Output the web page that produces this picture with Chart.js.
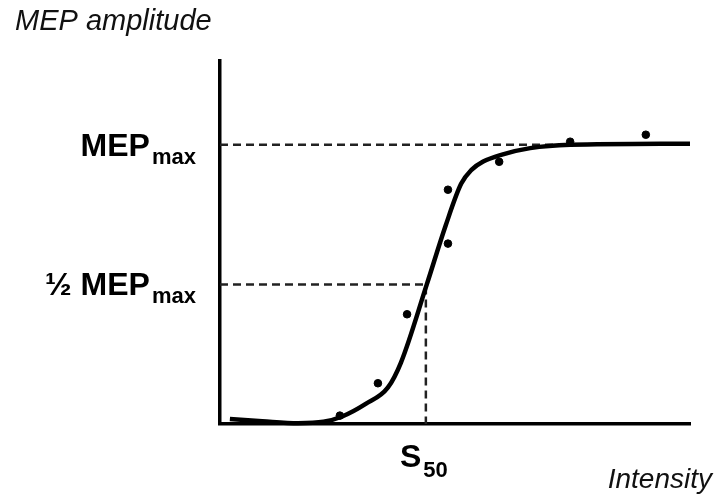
<!DOCTYPE html>
<html lang="en">
<head>
    <meta charset="UTF-8">
    <title>MEP recruitment curve</title>
    <script src="https://cdn.jsdelivr.net/npm/chart.js"></script>
    <style>
        body {
            margin: 0;
            background: #fff;
        }
        canvas {
            display: block;
        }
    </style>
</head>
<body>
    <canvas id="mepChart" width="719" height="497"></canvas>

    <script>
        // fitted curve (intensity, amplitude relative to MEPmax)
        const curveX = [2.1, 9, 16.6, 22, 26, 31, 35.7, 38.5, 44, 48, 51.3, 53.5, 56, 60, 66, 74.5, 100];
        const curveY = [0.018, 0.010, 0.003, 0.008, 0.027, 0.072, 0.13, 0.22, 0.5, 0.71, 0.86, 0.91, 0.94, 0.965, 0.988, 1.0, 1.004];

        // measured responses
        const pointX = [25.5, 33.6, 39.8, 48.5, 48.5, 59.4, 74.5, 90.6];
        const pointY = [0.030, 0.146, 0.393, 0.646, 0.839, 0.939, 1.011, 1.036];

        const MEP_MAX = 1.0;
        const S50 = 43.8;
        const plateauStart = 76;

        const yTickValues = [MEP_MAX, MEP_MAX / 2];
        const yTickText = ['MEP', '½ MEP'];
        const yTickSub = ['max', 'max'];
        const xTickValues = [S50];
        const xTickText = ['S'];
        const xTickSub = ['50'];

        const FONT = '"Liberation Sans", Arial, sans-serif';

        function toXY(xs, ys) {
            return xs.map((x, i) => ({ x: x, y: ys[i] }));
        }

        // label with a subscript part, e.g. MEP + max
        function drawSubText(ctx, main, sub, x, baseline, align, subDrop) {
            ctx.font = 'bold 32px ' + FONT;
            const mw = ctx.measureText(main).width;
            ctx.font = 'bold 22px ' + FONT;
            const sw = ctx.measureText(sub).width;
            const gap = 2;
            const total = mw + gap + sw;
            let left = x;
            if (align === 'right') left = x - total;
            if (align === 'center') left = x - total / 2;
            ctx.textAlign = 'left';
            ctx.textBaseline = 'alphabetic';
            ctx.font = 'bold 32px ' + FONT;
            ctx.fillText(main, left, baseline);
            ctx.font = 'bold 22px ' + FONT;
            ctx.fillText(sub, left + mw + gap, baseline + subDrop);
        }

        const labelPlugin = {
            id: 'labels',
            afterDraw(chart) {
                const ctx = chart.ctx;
                const xs = chart.scales.x;
                const ys = chart.scales.y;
                ctx.save();
                ctx.fillStyle = '#000';

                yTickValues.forEach((v, i) => {
                    const py = ys.getPixelForValue(v);
                    drawSubText(ctx, yTickText[i], yTickSub[i], xs.left - 24, py + 11, 'right', 8);
                });
                xTickValues.forEach((v, i) => {
                    const px = xs.getPixelForValue(v);
                    drawSubText(ctx, xTickText[i], xTickSub[i], px - 2, ys.bottom + 43, 'center', 10);
                });

                // axis names
                ctx.fillStyle = '#111';
                ctx.font = 'italic 29px ' + FONT;
                ctx.textAlign = 'left';
                ctx.fillText('MEP amplitude', 15, 30);
                ctx.font = 'italic 28px ' + FONT;
                ctx.textAlign = 'right';
                ctx.fillText('Intensity', 712, 488);
                ctx.restore();
            }
        };

        const dashStyle = {
            type: 'line',
            borderColor: '#222',
            borderWidth: 2.5,
            borderDash: [8, 5],
            pointRadius: 0,
            fill: false,
            order: 3
        };

        new Chart(document.getElementById('mepChart').getContext('2d'), {
            type: 'scatter',
            data: {
                datasets: [
                    Object.assign({
                        label: 'MEPmax',
                        data: [{ x: 0, y: MEP_MAX }, { x: plateauStart, y: MEP_MAX }]
                    }, dashStyle),
                    Object.assign({
                        label: 'half',
                        data: [{ x: 0, y: MEP_MAX / 2 }, { x: S50, y: MEP_MAX / 2 }, { x: S50, y: 0 }]
                    }, dashStyle),
                    {
                        type: 'line',
                        label: 'fit',
                        data: toXY(curveX, curveY),
                        borderColor: '#000',
                        borderWidth: 4.5,
                        cubicInterpolationMode: 'monotone',
                        pointRadius: 0,
                        fill: false,
                        order: 2
                    },
                    {
                        label: 'MEP',
                        data: toXY(pointX, pointY),
                        backgroundColor: '#000',
                        borderColor: '#000',
                        pointRadius: 3.8,
                        order: 1
                    }
                ]
            },
            options: {
                responsive: false,
                animation: false,
                devicePixelRatio: 1,
                clip: false,
                layout: {
                    padding: { left: 212, right: 29, top: 61, bottom: 65 }
                },
                plugins: {
                    legend: { display: false },
                    tooltip: { enabled: false }
                },
                scales: {
                    x: {
                        type: 'linear',
                        min: 0,
                        max: 100,
                        grid: { display: false },
                        ticks: { display: false },
                        border: { display: true, color: '#000', width: 3.5 }
                    },
                    y: {
                        type: 'linear',
                        min: 0,
                        max: 1.3,
                        grid: { display: false },
                        ticks: { display: false },
                        border: { display: true, color: '#000', width: 3.5 }
                    }
                }
            },
            plugins: [labelPlugin]
        });
    </script>
</body>
</html>
